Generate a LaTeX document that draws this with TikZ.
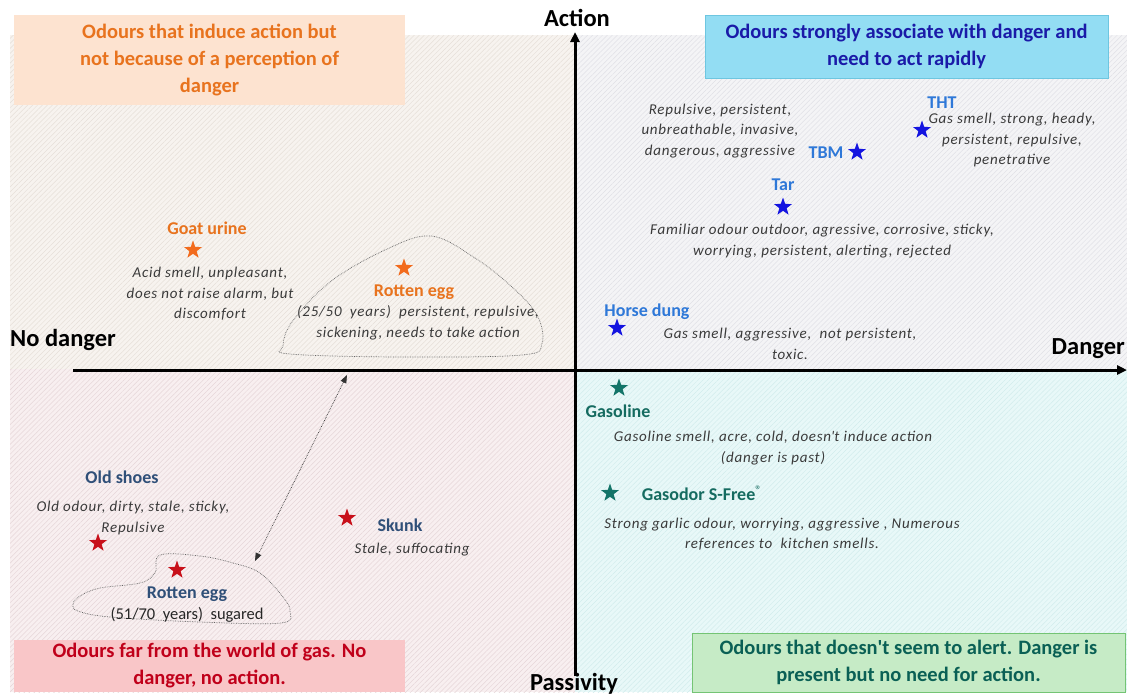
\documentclass[tikz,border=0pt]{standalone}
\usepackage{fontspec}
\setmainfont{Carlito}
\usetikzlibrary{shapes.geometric,arrows.meta,patterns.meta}
\definecolor{tlbg}{HTML}{F7F3EF}
\definecolor{tlhatch}{HTML}{E6DFD8}
\definecolor{trbg}{HTML}{F4F4F6}
\definecolor{trhatch}{HTML}{E0E0E6}
\definecolor{blbg}{HTML}{F8EFF0}
\definecolor{blhatch}{HTML}{E6D6D8}
\definecolor{brbg}{HTML}{E8F8F8}
\definecolor{brhatch}{HTML}{D2ECEC}
\definecolor{orangebox}{HTML}{FDE3D0}
\definecolor{orangetxt}{HTML}{E8731E}
\definecolor{bluebox}{HTML}{93DDF3}
\definecolor{blueedge}{HTML}{6EC6E0}
\definecolor{bluetxt}{HTML}{1A1AA8}
\definecolor{redbox}{HTML}{F9C6C8}
\definecolor{redtxt}{HTML}{C0001A}
\definecolor{greenbox}{HTML}{C6EBC6}
\definecolor{greenedge}{HTML}{74C474}
\definecolor{greentxt}{HTML}{0A6055}
\definecolor{lblblue}{HTML}{2E78D8}
\definecolor{starblue}{HTML}{1414E0}
\definecolor{lblteal}{HTML}{156B60}
\definecolor{starteal}{HTML}{137468}
\definecolor{starorange}{HTML}{F26B1D}
\definecolor{starred}{HTML}{C8101A}
\definecolor{lblslate}{HTML}{2F4F78}
\definecolor{desc}{HTML}{3A3A3A}
\tikzset{
  axislab/.style={font=\bfseries\fontsize{24.5}{28}\selectfont, text=black, inner sep=0pt},
  qbox/.style={align=center, font=\bfseries\fontsize{20.5}{27}\selectfont, inner sep=0pt},
  lbl/.style={font=\bfseries\fontsize{18}{20}\selectfont, inner sep=0pt},
  dsc/.style={align=center, font=\itshape\fontsize{15}{20.5}\selectfont\addfontfeature{LetterSpace=5}, text=desc, inner sep=0pt},
  mystar/.style={star, star points=5, star point ratio=2.5, minimum size=19pt, inner sep=0pt, draw=none},
  blob/.style={draw=gray!80!black, densely dotted, line width=0.7pt},
}
\begin{document}
\begin{tikzpicture}[x=1pt,y=-1pt]
\useasboundingbox (0,0) rectangle (1127,697);
\fill[white] (0,0) rectangle (1127,697);
% quadrant backgrounds
\fill[tlbg] (10,35) rectangle (575,369);
\fill[pattern={Lines[angle=45,distance=3.5pt,line width=0.5pt]}, pattern color=tlhatch] (10,35) rectangle (575,369);
\fill[trbg] (575,35) rectangle (1127,369);
\fill[pattern={Lines[angle=45,distance=3.5pt,line width=0.5pt]}, pattern color=trhatch] (575,35) rectangle (1127,369);
\fill[blbg] (10,369) rectangle (575,692);
\fill[pattern={Lines[angle=45,distance=3.5pt,line width=0.5pt]}, pattern color=blhatch] (10,369) rectangle (575,692);
\fill[brbg] (575,369) rectangle (1127,692);
\fill[pattern={Lines[angle=45,distance=3.5pt,line width=0.5pt]}, pattern color=brhatch] (575,369) rectangle (1127,692);

% axes
\coordinate (hl) at (73,370);
\coordinate (hr) at (1127,370);
\coordinate (vb) at (575,676);
\coordinate (vt) at (575,32);
\draw[line width=3pt, -{Triangle[length=10pt,width=9pt]}] (hl) -- (hr);
\draw[line width=3pt, -{Triangle[length=10pt,width=9pt]}] (vb) -- (vt);
\node[axislab] (action) at (577,18) {Action};
\node[axislab, anchor=west] (nodanger) at (10,340) {No danger};
\node[axislab, anchor=east] (danger) at (1125,349) {Danger};
\node[axislab, anchor=base] (passivity) at (574,690.5) {Passivity};

% quadrant boxes
\node[qbox, fill=orangebox, text=orangetxt, minimum width=391pt, minimum height=90pt] (tlbox) at (209.5,60)
  {Odours that induce action but\\not because of a perception of\\danger};
\node[qbox, fill=bluebox, draw=blueedge, line width=0.8pt, text=bluetxt, minimum width=403pt, minimum height=63pt] (trbox) at (906.5,46.5)
  {Odours strongly associate with danger and\\need to act rapidly};
\node[qbox, fill=redbox, text=redtxt, minimum width=391pt, minimum height=52pt] (blbox) at (209.5,666)
  {Odours far from the world of gas. No\\danger, no action.};
\node[qbox, fill=greenbox, draw=greenedge, line width=0.8pt, text=greentxt, minimum width=433pt, minimum height=59pt] (brbox) at (908.5,662.5)
  {Odours that doesn\textquotesingle t seem to alert. Danger is\\present but no need for action.};

% blobs
\draw[blob] plot[smooth cycle, tension=0.6] coordinates {(431,236) (475,258) (512,287) (537,315) (542,343) (522,355) (400,357) (290,354) (283,346) (292,322) (330,282) (385,250)};
\draw[blob] plot[smooth cycle, tension=0.6] coordinates {(160,555) (200,556) (233,563) (260,573) (283,597) (290,611) (281,623) (200,622) (110,617) (78,611) (73,604) (80,596) (100,588) (140,583) (155,573)};
\coordinate (arA) at (347,375);
\coordinate (arB) at (255,561);
\draw[densely dotted, line width=0.7pt, black!80, {Triangle[length=8pt,width=6pt]}-{Triangle[length=8pt,width=6pt]}] (arA) -- (arB);

% top-right quadrant
\node[lbl, text=lblblue] (thtl) at (942,103) {THT};
\node[mystar, fill=starblue] (thts) at (922,130) {};
\node[dsc] (thtd) at (1012,140) {Gas smell, strong, heady,\\persistent, repulsive,\\penetrative};
\node[dsc] (tbmd) at (720,131) {Repulsive, persistent,\\unbreathable, invasive,\\dangerous, aggressive};
\node[lbl, text=lblblue] (tbml) at (826,153) {TBM};
\node[mystar, fill=starblue] (tbms) at (857,152) {};
\node[lbl, text=lblblue] (tarl) at (783,185) {Tar};
\node[mystar, fill=starblue] (tars) at (783,207) {};
\node[dsc] (tard) at (822,241) {Familiar odour outdoor, agressive, corrosive, sticky,\\worrying, persistent, alerting, rejected};
\node[lbl, text=lblblue] (horsel) at (647,312) {Horse dung};
\node[mystar, fill=starblue] (horses) at (617,328) {};
\node[dsc] (horsed) at (790,344) {Gas smell, aggressive,~ not persistent,\\toxic.};

% bottom-right quadrant
\node[mystar, fill=starteal] (gass) at (619,388) {};
\node[lbl, text=lblteal] (gasl) at (618,411) {Gasoline};
\node[dsc] (gasd) at (773,448) {Gasoline smell, acre, cold, doesn\textquotesingle t induce action\\(danger is past)};
\node[mystar, fill=starteal] (gods) at (610,493) {};
\node[lbl, text=lblteal] (godl) at (702,493) {Gasodor S-Free\textsuperscript{\normalfont ®}};
\node[dsc] (godd) at (782,534) {Strong garlic odour, worrying, aggressive , Numerous\\references to~ kitchen smells.};

% top-left quadrant
\node[lbl, text=orangetxt] (goatl) at (207,228) {Goat urine};
\node[mystar, fill=starorange] (goats) at (193,250) {};
\node[dsc] (goatd) at (210,294) {Acid smell, unpleasant,\\does not raise alarm, but\\discomfort};
\node[mystar, fill=starorange] (eggas) at (404,268) {};
\node[lbl, text=orangetxt] (eggal) at (414,292) {Rotten egg};
\node[dsc] (eggad) at (418,323) {(25/50~ years)~ persistent, repulsive,\\sickening, needs to take action};

% bottom-left quadrant
\node[lbl, text=lblslate] (shoel) at (122,477) {Old shoes};
\node[dsc] (shoed) at (133,518) {Old odour, dirty, stale, sticky,\\Repulsive};
\node[mystar, fill=starred] (shoes) at (98,543) {};
\node[mystar, fill=starred] (skunks) at (347,518) {};
\node[lbl, text=lblslate] (skunkl) at (400,525) {Skunk};
\node[dsc] (skunkd) at (412,550) {Stale, suffocating};
\node[mystar, fill=starred] (eggbs) at (177,570) {};
\node[lbl, text=lblslate] (eggbl) at (187,594) {Rotten egg};
\node[font=\fontsize{16.5}{19}\selectfont, text=black!85, inner sep=0pt] (eggbd) at (187,615) {(51/70~ years)~ sugared};
\end{tikzpicture}
\end{document}
